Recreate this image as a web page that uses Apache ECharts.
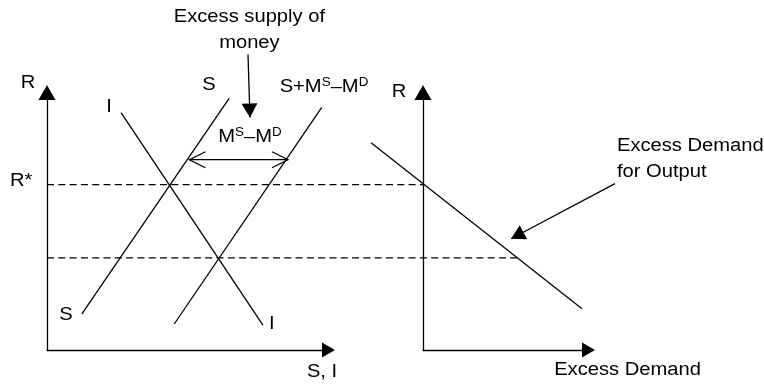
<!DOCTYPE html>
<html>
<head>
<meta charset="utf-8">
<script src="https://cdn.jsdelivr.net/npm/echarts@6/dist/echarts.min.js"></script>
<style>
  html, body { margin: 0; padding: 0; background: #fff; }
  #chart { width: 764px; height: 385px; }
</style>
</head>
<body>
<div id="chart"></div>
<script>
// both panels use 0..100 units on each axis (left grid = S,I panel, right grid = excess demand panel)
var investLine = [[26.3, 92.2], [76.7, 9.7]];
var savingLine = [[64.7, 97.7], [12.4, 14.0]];
var savingPlusMoney = [[97.6, 94.2], [45.2, 10.1]];
var rStarLine = [[0, 64.2], [133.6, 64.2]];
var lowRateLine = [[0, 35.8], [167.3, 35.8]];
var excessDemandLine = [[-31.4, 80.5], [96.1, 16.0]];

// arrows: [x0, y0, x1, y1] tip at (x1, y1)
var moneyArrow = [71.4, 114.8, 72.1, 90.3];
var gapArrow = [50.6, 73.9, 85.6, 73.9];
var outputArrow = [116.0, 64.6, 53.2, 43.2];

// labels: [x, y, text, align]
var leftLabels = [
  [-6.7, 103.7, 'R'],
  [-9.2, 65.6, 'R*'],
  [22.0, 94.2, 'I'],
  [57.5, 102.9, 'S'],
  [98.4, 102.3, 'S+M{s|S}–M{s|D}'],
  [72.1, 82.7, 'M{s|S}–M{s|D}'],
  [6.7, 13.6, 'S'],
  [79.9, 9.9, 'I'],
  [97.7, -8.6, 'S, I'],
  [71.9, 129.3, 'Excess supply of'],
  [71.9, 119.2, 'money']
];
var rightLabels = [
  [-14.5, 100.2, 'R'],
  [117.2, 79.2, 'Excess Demand', 'left'],
  [117.2, 69.1, 'for Output', 'left'],
  [123.6, -7.8, 'Excess Demand']
];

var font = '"Liberation Sans", Arial, sans-serif';
var ink = '#000';

function axis(idx, arrowSize) {
  return {
    type: 'value', gridIndex: idx, min: 0, max: 100,
    axisLine: { show: true, onZero: false, symbol: ['none', 'triangle'], symbolSize: arrowSize,
      lineStyle: { color: ink, width: 1.3 } },
    axisTick: { show: false }, axisLabel: { show: false }, splitLine: { show: false }
  };
}

// straight curve drawn through the grid's scales, allowed to run past the axis ends
function segment(idx, pts, dashed) {
  return {
    type: 'custom', xAxisIndex: idx, yAxisIndex: idx, clip: false, silent: true, animation: false,
    data: [[pts[0][0], pts[0][1], pts[1][0], pts[1][1]]],
    renderItem: function (params, api) {
      var a = api.coord([api.value(0), api.value(1)]);
      var b = api.coord([api.value(2), api.value(3)]);
      return {
        type: 'line', shape: { x1: a[0], y1: a[1], x2: b[0], y2: b[1] },
        style: { stroke: ink, lineWidth: 1.3, lineDash: dashed ? [7, 4.3] : null }
      };
    }
  };
}

function head(tip, from, len, half, open) {
  var dx = tip[0] - from[0], dy = tip[1] - from[1];
  var d = Math.sqrt(dx * dx + dy * dy);
  var ux = dx / d, uy = dy / d;
  var bx = tip[0] - ux * len, by = tip[1] - uy * len;
  var a = [bx - uy * half, by + ux * half], b = [bx + uy * half, by - ux * half];
  if (open) {
    return { type: 'polyline', shape: { points: [a, tip, b] }, style: { stroke: ink, lineWidth: 1.3, fill: null } };
  }
  return { type: 'polygon', shape: { points: [a, tip, b] }, style: { fill: ink } };
}

function arrowSeries(idx, arr, both) {
  return {
    type: 'custom', xAxisIndex: idx, yAxisIndex: idx, clip: false, silent: true, animation: false,
    data: [arr],
    renderItem: function (params, api) {
      var p0 = api.coord([api.value(0), api.value(1)]);
      var p1 = api.coord([api.value(2), api.value(3)]);
      var kids = [{ type: 'line', shape: { x1: p0[0], y1: p0[1], x2: p1[0], y2: p1[1] },
        style: { stroke: ink, lineWidth: 1.3 } }];
      if (both) {
        kids.push(head(p1, p0, 16, 8, true));
        kids.push(head(p0, p1, 16, 8, true));
      } else {
        kids.push(head(p1, p0, 14, 8, false));
      }
      return { type: 'group', children: kids };
    }
  };
}

function labelSeries(idx, labels) {
  return {
    type: 'custom', xAxisIndex: idx, yAxisIndex: idx, clip: false, silent: true, animation: false,
    data: labels.map(function (l) { return [l[0], l[1]]; }),
    renderItem: function (params, api) {
      var l = labels[params.dataIndex];
      var p = api.coord([l[0], l[1]]);
      return {
        type: 'text', x: p[0], y: p[1], scaleX: 1.12,
        style: {
          text: l[2], fill: ink, fontSize: 18, fontFamily: font,
          align: l[3] || 'center', verticalAlign: 'middle',
          rich: { s: { fontSize: 12, fontFamily: font, fill: ink, verticalAlign: 'top', lineHeight: 20 } }
        }
      };
    }
  };
}

var chart = echarts.init(document.getElementById('chart'));
chart.setOption({
  backgroundColor: '#fff',
  animation: false,
  grid: [
    { left: 47, right: 435.5, top: 92.5, bottom: 35 },
    { left: 423, right: 175.5, top: 92.5, bottom: 35 }
  ],
  xAxis: [axis(0, [15, 13]), axis(1, [15, 13])],
  yAxis: [axis(0, [17, 15]), axis(1, [17, 15])],
  series: [
    segment(0, rStarLine, true),
    segment(0, lowRateLine, true),
    segment(0, investLine),
    segment(0, savingLine),
    segment(0, savingPlusMoney),
    segment(1, excessDemandLine),
    arrowSeries(0, moneyArrow, false),
    arrowSeries(0, gapArrow, true),
    arrowSeries(1, outputArrow, false),
    labelSeries(0, leftLabels),
    labelSeries(1, rightLabels)
  ]
});
</script>
</body>
</html>
